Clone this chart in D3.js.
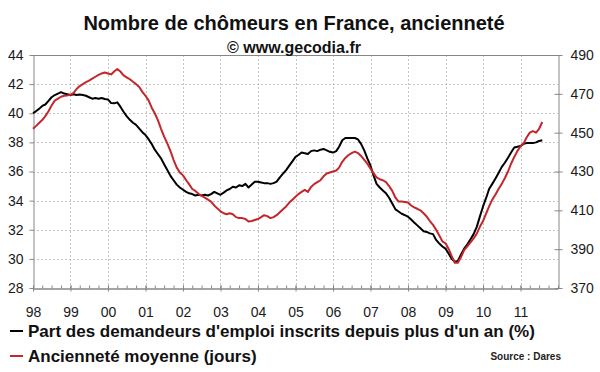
<!DOCTYPE html>
<meta charset="utf-8">
<script src="https://cdn.jsdelivr.net/npm/d3@7"></script>
<style>
  body { margin: 0; background: #fff; }
  text { font-family: "Liberation Sans", Arial, sans-serif; }
</style>
<div id="chart"></div>
<script>
// monthly values, Jan 1998 -> Aug 2011
var startYear = 1998;
var partLongue = [
  40.0, 40.15, 40.3, 40.5, 40.6, 40.85, 41.1, 41.25, 41.35, 41.45, 41.35, 41.3,
  41.25, 41.3, 41.25, 41.28, 41.25, 41.2, 41.1, 41.0, 41.05, 41.0, 41.05, 40.98,
  40.95, 40.7, 40.68, 40.75, 40.45, 40.1, 39.8, 39.55, 39.35, 39.2, 38.95, 38.7,
  38.5, 38.2, 37.9, 37.5, 37.2, 36.9, 36.5, 36.1, 35.7, 35.4, 35.1, 34.9,
  34.75, 34.6, 34.5, 34.45, 34.35, 34.4, 34.35, 34.4, 34.35, 34.45, 34.6, 34.5,
  34.4, 34.55, 34.7, 34.8, 34.95, 34.9, 35.05, 35.0, 35.15, 34.9, 35.1, 35.3,
  35.3, 35.25, 35.2, 35.2, 35.15, 35.2, 35.3, 35.6, 35.85, 36.1, 36.4, 36.7,
  37.0, 37.15, 37.3, 37.25, 37.2, 37.4, 37.45, 37.4, 37.5, 37.55, 37.45, 37.35,
  37.3, 37.4, 37.7, 38.15, 38.3, 38.3, 38.3, 38.3, 38.2, 37.9, 37.45, 36.9,
  36.4, 35.7, 35.15, 34.9, 34.7, 34.5, 34.2, 33.8, 33.4, 33.25, 33.1, 33.0,
  32.9, 32.7, 32.5, 32.3, 32.1, 31.9, 31.85, 31.75, 31.7, 31.3, 31.05, 30.85,
  30.7, 30.35, 30.0, 29.8, 29.85, 30.3, 30.7, 31.0, 31.35, 31.7, 32.2, 32.9,
  33.6, 34.2, 34.8, 35.15, 35.5, 35.9, 36.3, 36.6, 36.95, 37.3, 37.65, 37.7,
  37.75, 37.9, 37.95, 37.95, 37.95, 38.0, 38.1, 38.15
];
var ancienneteMoy = [
  452, 453.5, 455, 456.5, 458.5, 461, 464, 466.5, 467.5, 468.5, 469, 469.2,
  469.5, 470.5, 472.5, 474, 475, 476, 476.8, 477.8, 478.8, 479.8, 480.5, 481,
  480.5, 480, 481.5, 482.8, 481.5, 479.5, 478.5, 477.5, 476.2, 475, 473.5, 471,
  469, 466.5, 463, 460, 456.5, 452, 448, 444.5, 440.5, 436, 432, 429.5,
  428, 425.5, 423.5, 421, 420, 418.5, 417.5, 416.5, 415.5, 414.5, 412.5, 411,
  409.5, 408.5, 408, 408.5, 408, 406.5, 406, 406, 405.5, 404.2, 404.5, 405,
  405.5, 406.5, 407.5, 407, 406, 406.5, 407.5, 409, 410.5, 412, 414, 415.5,
  417, 418.5, 419.5, 420.5, 419.5, 422, 423.5, 424.5, 425.5, 427.5, 429, 429.5,
  430, 430.5, 432, 435, 437, 438.5, 439.5, 440.2, 439.5, 438, 436, 434,
  431.5, 429, 427, 426, 425.5, 424.5, 422.5, 420, 416.5, 414.5, 414.5, 414.3,
  414, 412.5, 411.5, 410.8, 410, 408.5, 406.8, 404.5, 402.5, 400, 397, 394,
  393, 390, 386.5, 383, 383, 386, 389.5, 391.5, 393.5, 395.5, 398, 401.5,
  404.5, 408.5, 412, 415.5, 418, 421, 423.5, 426.5, 430, 434, 437.5, 440.5,
  443, 444.5, 447.5, 450, 450.8, 450, 452, 455.5
];
var yearLabels = ["98", "99", "00", "01", "02", "03", "04", "05", "06", "07", "08", "09", "10", "11"];
var leftTicks = [28, 30, 32, 34, 36, 38, 40, 42, 44];
var rightTicks = [370, 390, 410, 430, 450, 470, 490];
var legendLabels = ["Part des demandeurs d'emploi inscrits depuis plus d'un an (%)", "Ancienneté moyenne (jours)"];

var W = 600, H = 372;
var m = {left: 33, right: 558, top: 55, bottom: 288};
var axisCol = "#868686", gridCol = "#c4c4c4";
var colBlack = "#000000", colRed = "#c3262b";

var svg = d3.select("#chart").append("svg")
  .attr("width", W).attr("height", H);

var x = d3.scaleTime()
  .domain([new Date(1998, 0, 1), new Date(2012, 0, 1)])
  .range([m.left, m.right]);
var yL = d3.scaleLinear().domain([28, 44]).range([m.bottom, m.top]);
var yR = d3.scaleLinear().domain([370, 490]).range([m.bottom, m.top]);

var dates = partLongue.map(function(d, i) { return new Date(startYear, i, 1); });
var years = yearLabels.map(function(d, i) { return new Date(startYear + i, 0, 1); });

// grid
svg.append("g").selectAll("line")
  .data(leftTicks.slice(1, -1)).enter().append("line")
  .attr("x1", m.left).attr("x2", m.right)
  .attr("y1", function(d) { return Math.round(yL(d)) + 0.5; })
  .attr("y2", function(d) { return Math.round(yL(d)) + 0.5; })
  .attr("stroke", gridCol).attr("stroke-dasharray", "2,2");
svg.append("g").selectAll("line")
  .data(years.slice(1)).enter().append("line")
  .attr("x1", function(d) { return Math.round(x(d)) + 0.5; })
  .attr("x2", function(d) { return Math.round(x(d)) + 0.5; })
  .attr("y1", m.top).attr("y2", m.bottom)
  .attr("stroke", gridCol).attr("stroke-dasharray", "2,2");

// top border
svg.append("line")
  .attr("x1", m.left).attr("x2", m.right)
  .attr("y1", m.top + 0.5).attr("y2", m.top + 0.5)
  .attr("stroke", axisCol);

// left axis
var gL = svg.append("g")
  .attr("transform", "translate(" + (m.left + 0.5) + ",0)")
  .call(d3.axisLeft(yL).tickValues(leftTicks).tickSize(4).tickPadding(6).tickSizeOuter(0));

// right axis, ticks cross the line
var gR = svg.append("g")
  .attr("transform", "translate(" + (m.right + 0.5) + ",0)")
  .call(d3.axisRight(yR).tickValues(rightTicks).tickSize(4).tickPadding(8).tickSizeOuter(0));
gR.selectAll(".tick line").attr("x1", -4);

// bottom axis: quarter minor ticks (inside) + yearly major ticks
var gMinor = svg.append("g")
  .attr("transform", "translate(0," + (m.bottom + 0.5) + ")")
  .call(d3.axisBottom(x).ticks(d3.timeMonth.every(3)).tickSize(-3).tickFormat("").tickSizeOuter(0));
var gB = svg.append("g")
  .attr("transform", "translate(0," + (m.bottom + 0.5) + ")")
  .call(d3.axisBottom(x).tickValues(years).tickSize(3).tickPadding(16)
    .tickFormat(function(d, i) { return yearLabels[i]; }).tickSizeOuter(0));
gB.selectAll(".tick line").attr("y1", -3);

[gL, gR, gMinor, gB].forEach(function(g) {
  g.select(".domain").attr("stroke", axisCol);
  g.selectAll(".tick line").attr("stroke", axisCol);
  g.selectAll(".tick text").attr("fill", "#1a1a1a").style("font-size", "14px")
    .style("font-family", "'Liberation Sans', Arial, sans-serif");
});

// lines
var lineL = d3.line()
  .x(function(d, i) { return x(dates[i]); })
  .y(function(d) { return yL(d); });
var lineR = d3.line()
  .x(function(d, i) { return x(dates[i]); })
  .y(function(d) { return yR(d); });

svg.append("path").datum(partLongue)
  .attr("fill", "none").attr("stroke", colBlack).attr("stroke-width", 2)
  .attr("stroke-linejoin", "round").attr("d", lineL);
svg.append("path").datum(ancienneteMoy)
  .attr("fill", "none").attr("stroke", colRed).attr("stroke-width", 2)
  .attr("stroke-linejoin", "round").attr("d", lineR);

// titles
svg.append("text").attr("x", 294).attr("y", 30)
  .attr("text-anchor", "middle").style("font-size", "20px").style("font-weight", "bold")
  .attr("fill", "#111").text("Nombre de chômeurs en France, ancienneté");
svg.append("text").attr("x", 294).attr("y", 53)
  .attr("text-anchor", "middle").style("font-size", "16px").style("font-weight", "bold")
  .attr("fill", "#111").text("© www.gecodia.fr");

// legend
var legY = [337, 362];
var legCol = [colBlack, colRed];
var leg = svg.append("g").selectAll("g").data(legendLabels).enter().append("g");
leg.append("line")
  .attr("x1", 10).attr("x2", 23)
  .attr("y1", function(d, i) { return legY[i] - 6; })
  .attr("y2", function(d, i) { return legY[i] - 6; })
  .attr("stroke", function(d, i) { return legCol[i]; }).attr("stroke-width", 2);
leg.append("text")
  .attr("x", 28).attr("y", function(d, i) { return legY[i]; })
  .style("font-size", "17px").style("font-weight", "bold").attr("fill", "#111")
  .text(function(d) { return d; });

svg.append("text").attr("x", 561).attr("y", 360)
  .attr("text-anchor", "end").style("font-size", "10px").style("font-weight", "bold")
  .attr("fill", "#222").text("Source : Dares");
</script>
